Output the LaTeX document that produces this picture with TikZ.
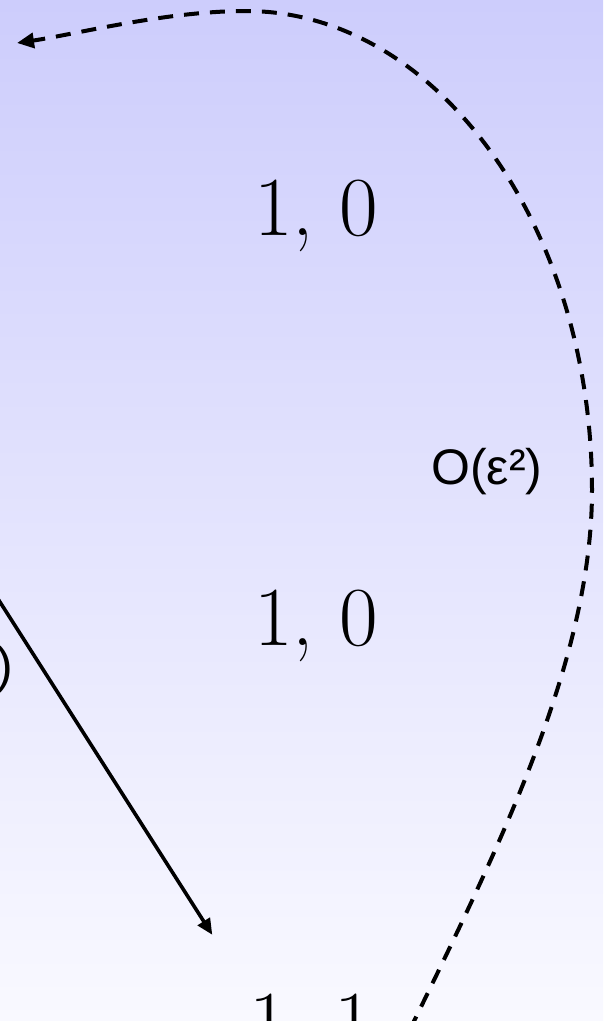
\documentclass[tikz,border=0pt]{standalone}
\usepackage{fontspec}
\usepackage{tikz}
\usetikzlibrary{arrows.meta,positioning}
\newfontfamily\labelfont{Liberation Sans}
\definecolor{bgtop}{RGB}{205,205,252}
\definecolor{bgbot}{RGB}{249,249,255}
\tikzset{
  payoff/.style={inner sep=0pt, font=\fontsize{84}{90}\selectfont},
  looplabel/.style={inner sep=0pt, anchor=base, font=\labelfont\fontsize{50}{56}\selectfont},
  move/.style={line width=3.6pt, -{Triangle[length=16pt,width=14pt]}},
  deviation/.style={line width=4pt, dash pattern=on 15pt off 11pt, -{Triangle[length=17pt,width=15pt]}}
}

\begin{document}
\begin{tikzpicture}[x=1pt,y=-1pt]
  \useasboundingbox (0,0) rectangle (603,1021);
  \clip (0,0) rectangle (603,1021);
  \shade[top color=bgtop, bottom color=bgbot] (0,0) rectangle (603,1021);

  \node[payoff] (upper) at (316,216) {1, 0};
  \node[payoff] (lower) at (316,626) {1, 0};
  \node[payoff, minimum width=197pt, minimum height=190pt] (end) at (311,1030) {1, 1};

  \node[looplabel] (eps2) at (487,484) {O(ε²)};
  \node[looplabel, anchor=base east, font=\labelfont\fontsize{50}{56}\selectfont] (epsleft) at (13,682) {)};

  \coordinate (from) at (-60,508);
  \coordinate (back) at (17,43);

  \draw[move] (from) -- (end.north west);
  % the long way round, off the right edge
  \draw[deviation] (end.east) .. controls (500,845) and (592,660) .. (592,490)
    .. controls (592,226) and (437,11) .. (246,11)
    .. controls (166,11) and (77,34) .. (back);
\end{tikzpicture}
\end{document}
